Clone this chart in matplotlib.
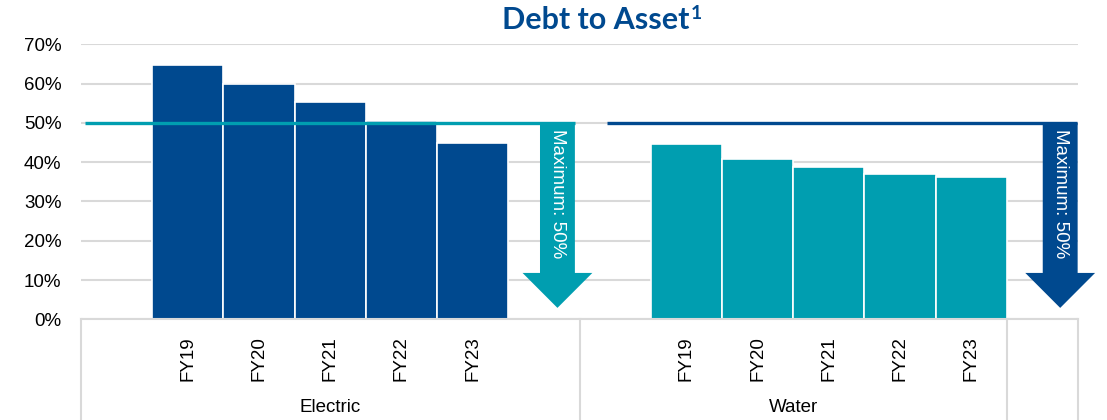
import matplotlib
matplotlib.use("Agg")
import matplotlib.pyplot as plt
from matplotlib.patches import Polygon
from matplotlib.ticker import PercentFormatter, MultipleLocator
import matplotlib.transforms as mtransforms

# data
years = ["FY19", "FY20", "FY21", "FY22", "FY23"]
electric = [0.647, 0.598, 0.552, 0.506, 0.450]
water = [0.445, 0.408, 0.388, 0.371, 0.362]
groups = ["Electric", "Water"]
max_limit = [0.50, 0.50]

NAVY = "#00498F"
TEAL = "#009EB0"
GRID = "#D9D9D9"

plt.rcParams["font.family"] = ["Liberation Sans", "DejaVu Sans"]

# slot layout: blank, 5 years, arrow slot  |  blank, 5 years  | arrow slot
elec_pos = [1 + i for i in range(len(years))]
water_pos = [8 + i for i in range(len(years))]
arrow_slot = [6, 13]

fig = plt.figure(figsize=(11.07, 4.2), dpi=100)
ax = fig.add_axes([0.0732, 0.2398, 0.9006, 0.6547])

ax.bar(elec_pos, electric, width=1.0, color=NAVY, edgecolor="white", linewidth=1.2, zorder=2)
ax.bar(water_pos, water, width=1.0, color=TEAL, edgecolor="white", linewidth=1.2, zorder=2)

ax.set_xlim(-0.5, 13.5)
ax.set_ylim(0, 0.70)
ax.yaxis.set_major_locator(MultipleLocator(0.10))
ax.yaxis.set_major_formatter(PercentFormatter(1.0, decimals=0))
ax.grid(axis="y", color=GRID, linewidth=1.5, zorder=0)
ax.set_axisbelow(True)
for s in ["top", "right", "left"]:
    ax.spines[s].set_visible(False)
ax.spines["bottom"].set_color(GRID)
ax.spines["bottom"].set_linewidth(1.5)

ax.set_xticks(elec_pos + water_pos)
ax.set_xticklabels(years + years, rotation=90, fontsize=13.5, color="#000000")
ax.tick_params(axis="x", length=0, pad=12)
ax.tick_params(axis="y", length=0, labelsize=13.5, labelcolor="#000000", pad=14)

# category group separators and labels
trans = mtransforms.blended_transform_factory(ax.transData, ax.transAxes)
for xs in [-0.5, 6.5, 12.5, 13.5]:
    ax.plot([xs, xs], [0, -0.37], transform=trans, color=GRID, linewidth=1.5, clip_on=False)
ax.text((-0.5 + 6.5) / 2, -0.32, groups[0], transform=trans, ha="center", va="center", fontsize=13.5)
ax.text((6.5 + 12.5) / 2, -0.32, groups[1], transform=trans, ha="center", va="center", fontsize=13.5)

# limit lines and arrows
line_spans = [(-0.44, arrow_slot[0] + 0.44), (6.89, arrow_slot[1] + 0.49)]
arrow_center = [arrow_slot[0] + 0.19, arrow_slot[1] + 0.25]
arrow_col = [TEAL, NAVY]
for lim, (x0, x1), xc, col in zip(max_limit, line_spans, arrow_center, arrow_col):
    ax.plot([x0, x1], [lim, lim], color=col, linewidth=2.4, zorder=3, solid_capstyle="butt")
    sw, hw = 0.245, 0.49
    head_base, tip = 0.118, 0.029
    pts = [(xc - sw, lim), (xc + sw, lim), (xc + sw, head_base), (xc + hw, head_base),
           (xc, tip), (xc - hw, head_base), (xc - sw, head_base)]
    ax.add_patch(Polygon(pts, closed=True, facecolor=col, edgecolor="none", zorder=4, clip_on=False))
    ax.text(xc, (lim + head_base) / 2 + 0.01, "Maximum: 50%", rotation=-90, color="white",
            ha="center", va="center", fontsize=13.5, zorder=5)

title = fig.text(0.538, 0.952, "Debt to Asset", ha="center", va="center",
                 fontsize=22, fontweight="bold", color=NAVY, family=["Lato", "DejaVu Sans"])
fig.canvas.draw()
ax.annotate("1", xy=(1.0, 1.0), xycoords=title, xytext=(1, 1), textcoords="offset points",
            ha="left", va="top", fontsize=14, fontweight="bold", color=NAVY,
            family=["Lato", "DejaVu Sans"])

fig.savefig("out.png", dpi=100)
